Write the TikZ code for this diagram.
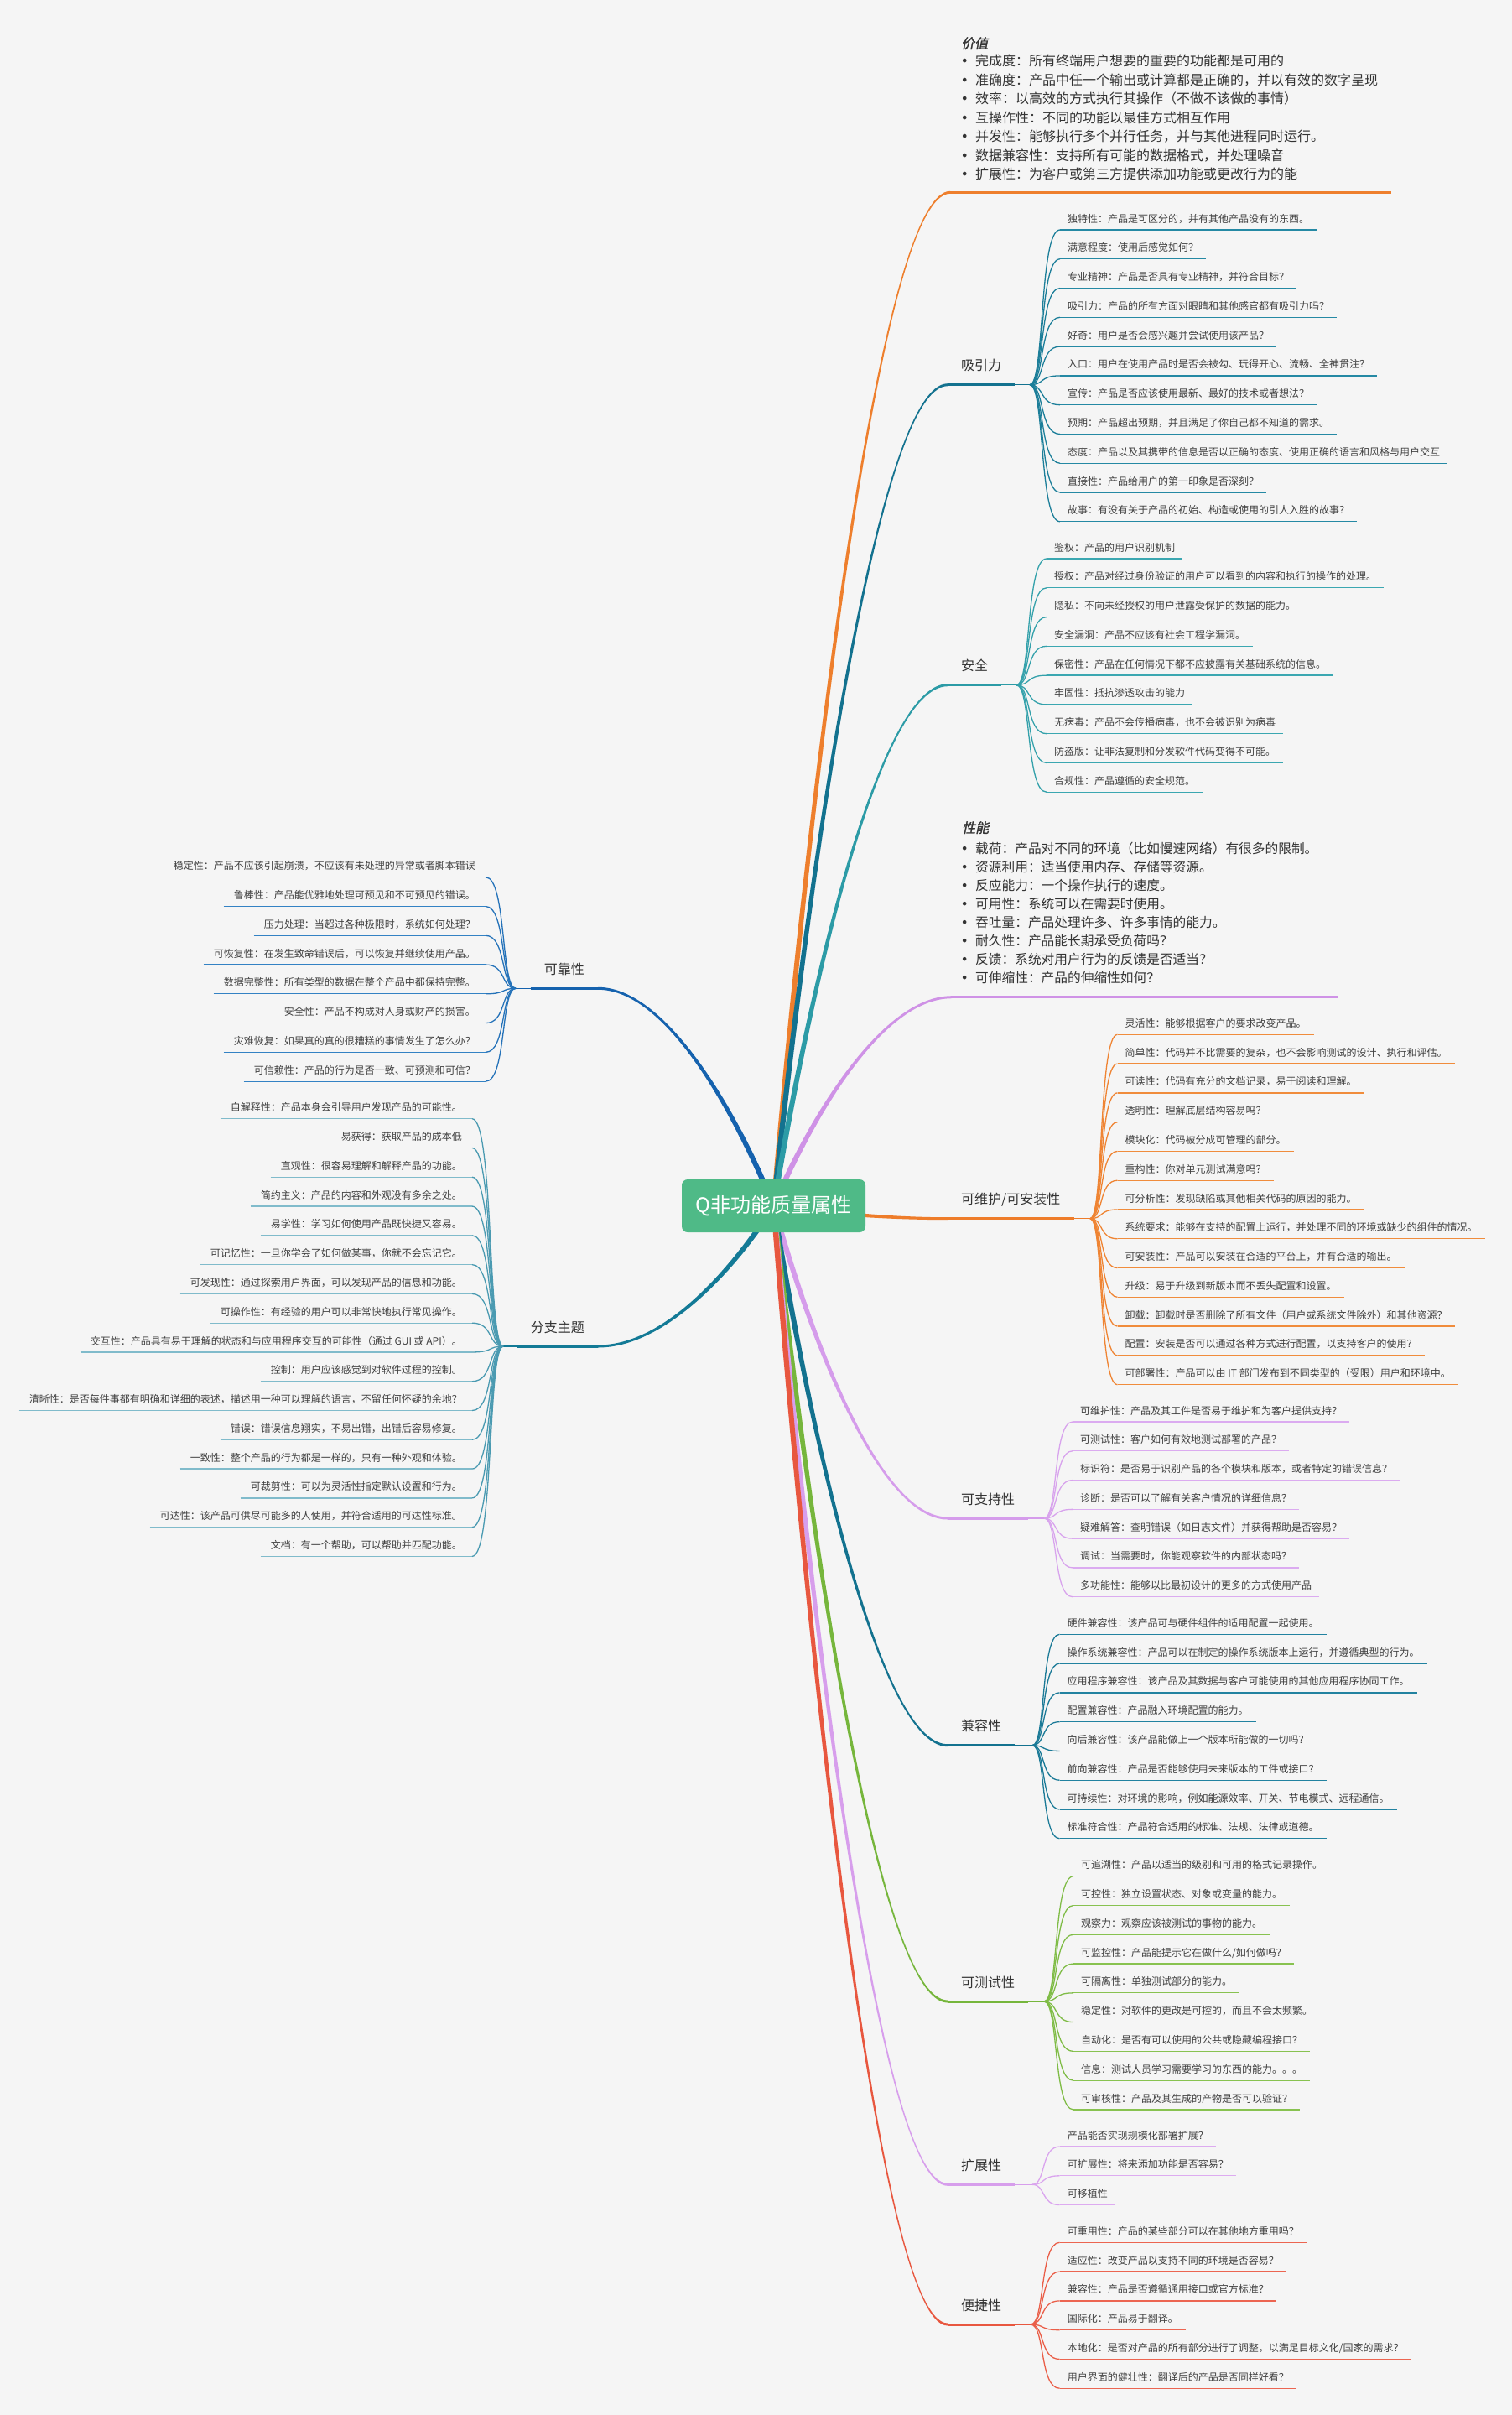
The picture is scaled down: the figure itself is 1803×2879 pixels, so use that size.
\documentclass[tikz,border=0pt]{standalone}
\usepackage{fontspec}
\setmainfont{Noto Sans CJK SC}
\newfontfamily\dejavu{DejaVu Sans}
\newfontfamily\slantcjk[FakeSlant=0.2,FakeBold=1.6]{Noto Sans CJK SC}
\usetikzlibrary{calc}
\pgfdeclarelayer{background}
\pgfdeclarelayer{edges}
\pgfsetlayers{background,edges,main}

\definecolor{bgc}{HTML}{F5F5F5}
\definecolor{txt}{HTML}{404040}
\definecolor{lbl}{HTML}{333333}
\definecolor{ctrc}{HTML}{4FBA87}
\definecolor{cval}{HTML}{EE7F2D}
\definecolor{catt}{HTML}{13728F}
\definecolor{catl}{HTML}{2589A4}
\definecolor{csec}{HTML}{2C9BA6}
\definecolor{csecl}{HTML}{3BA7B1}
\definecolor{cperf}{HTML}{CF92E6}
\definecolor{cmnt}{HTML}{EE7C2A}
\definecolor{cmntl}{HTML}{F08C3C}
\definecolor{csup}{HTML}{D59CEB}
\definecolor{csupl}{HTML}{DBABF0}
\definecolor{ccmp}{HTML}{13728F}
\definecolor{ccmpl}{HTML}{2282A0}
\definecolor{ctst}{HTML}{76B63C}
\definecolor{ctstl}{HTML}{88C250}
\definecolor{cext}{HTML}{D79EEC}
\definecolor{cextl}{HTML}{DDABF0}
\definecolor{cprt}{HTML}{E8573F}
\definecolor{cprtl}{HTML}{EC6551}
\definecolor{crel}{HTML}{1562AE}
\definecolor{crell}{HTML}{3382C4}
\definecolor{cusa}{HTML}{137A96}
\definecolor{cusal}{HTML}{80BBCB}

\tikzset{
  leafcurve/.style={to path={let \p1=(\tikztostart), \p2=(\tikztotarget) in
     .. controls ({\x1+0.5*(\x2-\x1)},\y1) and ({\x1+0.3*(\x2-\x1)},\y2) .. (\tikztotarget)}},
  taper/.style={to path={let \p1=(\tikztostart), \p2=(\tikztotarget),
     \p3=({0.2*(\x2-\x1)},{0.4*(\y2-\y1)}), \n1={veclen(\x3,\y3)},
     \p4=({-3.2*\y3/\n1},{3.2*\x3/\n1}),
     \n2={1.5*sign(\x2-\x1)} in
     ({\x1+\x4},{\y1+\y4}) .. controls ({\x1+\x3+\x4},{\y1+\y3+\y4}) and ({\x1+0.6*(\x2-\x1)},{\y2+\n2}) .. ({\x2},{\y2+\n2})
     -- ({\x2},{\y2-\n2}) .. controls ({\x1+0.6*(\x2-\x1)},{\y2-\n2}) and ({\x1+\x3-\x4},{\y1+\y3-\y4}) .. ({\x1-\x4},{\y1-\y4}) -- cycle}},
  leafR/.style={anchor=south west, inner xsep=9pt, inner ysep=7.3pt, text=txt,
     font=\fontsize{12}{12}\selectfont, text height=10.56pt, text depth=1.44pt,
     append after command={(\tikzlastnode.south west) edge[draw=#1, line width=1.3pt] (\tikzlastnode.south east)}},
  leafL/.style={leafR=#1, anchor=south east, inner xsep=12pt},
  branchR/.style={anchor=south west, inner xsep=16pt, inner ysep=14.7pt, text=lbl,
     font=\fontsize{16}{16}\selectfont, text height=14.08pt, text depth=1.92pt,
     append after command={(\tikzlastnode.south west) edge[draw=#1, line width=3pt] (\tikzlastnode.south east)}},
  branchL/.style={branchR=#1, anchor=south east},
  maincurve/.style={fill=#1},
  fancurve/.style={draw=#1, line width=1.3pt},
  fanline/.style={draw=#1, line width=1.5pt},
  blockline/.style={draw=#1, line width=2.5pt},
  vtitle/.style={anchor=west, inner sep=0pt, text=lbl, font=\slantcjk\fontsize{16}{16}\selectfont,
     text height=14.08pt, text depth=1.92pt},
  vrow/.style={anchor=west, inner sep=0pt, text=lbl, font=\fontsize{16}{16}\selectfont,
     text height=14.08pt, text depth=1.92pt,
     execute at begin node={\makebox[17.7pt][l]{\dejavu •}}},
  prow/.style={vrow, font=\fontsize{15.7}{15.7}\selectfont},
  ctrnode/.style={fill=ctrc, rounded corners=7pt, minimum width=219pt, minimum height=63pt,
     inner sep=0pt, text=white, font=\fontsize{24}{24}\selectfont}
}

% #1 id, #2 label, #3 main colour, #4 leaf colour, #5 line y, #6 fan x, #7 leaf x, #8 first leaf y, #9 leaves
\newcommand\rbranch[9]{%
  \node[branchR=#3] (#1) at (1130,#5) {#2};
  \coordinate (#1-fan) at (#6,#5);
  \draw[fanline=#3] (#1.south east) -- (#1-fan);
  \foreach \t [count=\i] in {#9}{%
    \node[leafR=#4] (#1-\i) at (#7,{#8+(\i-1)*34.78}) {\t};
    \draw[fancurve=#3!50!#4] (#1-fan) to[leafcurve] (#1-\i.south west);
  }%
  \begin{pgfonlayer}{edges}
    \path[maincurve=#3] (ctr.center) to[taper] (#1.south west);
  \end{pgfonlayer}%
}
\newcommand\lbranch[9]{%
  \node[branchL=#3] (#1) at (713,#5) {#2};
  \coordinate (#1-fan) at (#6,#5);
  \draw[fanline=#3] (#1.south west) -- (#1-fan);
  \foreach \t [count=\i] in {#9}{%
    \node[leafL=#4] (#1-\i) at (#7,{#8+(\i-1)*34.78}) {\t};
    \draw[fancurve=#3!50!#4] (#1-fan) to[leafcurve] (#1-\i.south east);
  }%
  \begin{pgfonlayer}{edges}
    \path[maincurve=#3] (ctr.center) to[taper] (#1.south east);
  \end{pgfonlayer}%
}

\begin{document}
\begin{tikzpicture}[x=1pt,y=-1pt]
\begin{pgfonlayer}{background}
  \fill[bgc] (0,0) rectangle (1803,2879);
\end{pgfonlayer}
\useasboundingbox (0,0) rectangle (1803,2879);

\node[ctrnode] (ctr) at (922.5,1437.5) {Q非功能质量属性};

% ---------- 价值 ----------
\node[vtitle] (val-t) at (1146,51.7) {价值};
\foreach \t [count=\i] in {%
  {完成度：所有终端用户想要的重要的功能都是可用的},
  {准确度：产品中任一个输出或计算都是正确的，并以有效的数字呈现},
  {效率：以高效的方式执行其操作（不做不该做的事情）},
  {互操作性：不同的功能以最佳方式相互作用},
  {并发性：能够执行多个并行任务，并与其他进程同时运行。},
  {数据兼容性：支持所有可能的数据格式，并处理噪音},
  {扩展性：为客户或第三方提供添加功能或更改行为的能}}{%
  \node[vrow] (val-\i) at (1145.3,{72.7+(\i-1)*22.5}) {\t};
}
\coordinate (val-s) at (1133,229.3);
\coordinate (val-e) at (1659,229.3);
\draw[blockline=cval] (val-s) -- (val-e);
\begin{pgfonlayer}{edges}
  \path[maincurve=cval] (ctr.center) to[taper] (val-s);
\end{pgfonlayer}

% ---------- 吸引力 ----------
\rbranch{att}{吸引力}{catt}{catl}{458.7}{1228}{1264}{274}{%
  {独特性：产品是可区分的，并有其他产品没有的东西。},
  {满意程度：使用后感觉如何？},
  {专业精神：产品是否具有专业精神，并符合目标？},
  {吸引力：产品的所有方面对眼睛和其他感官都有吸引力吗？},
  {好奇：用户是否会感兴趣并尝试使用该产品？},
  {入口：用户在使用产品时是否会被勾、玩得开心、流畅、全神贯注？},
  {宣传：产品是否应该使用最新、最好的技术或者想法？},
  {预期：产品超出预期，并且满足了你自己都不知道的需求。},
  {态度：产品以及其携带的信息是否以正确的态度、使用正确的语言和风格与用户交互},
  {直接性：产品给用户的第一印象是否深刻？},
  {故事：有没有关于产品的初始、构造或使用的引人入胜的故事？}}

% ---------- 安全 ----------
\rbranch{sec}{安全}{csec}{csecl}{816.7}{1212}{1248}{666}{%
  {鉴权：产品的用户识别机制},
  {授权：产品对经过身份验证的用户可以看到的内容和执行的操作的处理。},
  {隐私：不向未经授权的用户泄露受保护的数据的能力。},
  {安全漏洞：产品不应该有社会工程学漏洞。},
  {保密性：产品在任何情况下都不应披露有关基础系统的信息。},
  {牢固性：抵抗渗透攻击的能力},
  {无病毒：产品不会传播病毒，也不会被识别为病毒},
  {防盗版：让非法复制和分发软件代码变得不可能。},
  {合规性：产品遵循的安全规范。}}

% ---------- 性能 ----------
\node[vtitle] (perf-t) at (1147,986.7) {性能};
\foreach \t [count=\i] in {%
  {载荷：产品对不同的环境（比如慢速网络）有很多的限制。},
  {资源利用：适当使用内存、存储等资源。},
  {反应能力：一个操作执行的速度。},
  {可用性：系统可以在需要时使用。},
  {吞吐量：产品处理许多、许多事情的能力。},
  {耐久性：产品能长期承受负荷吗？},
  {反馈：系统对用户行为的反馈是否适当？},
  {可伸缩性：产品的伸缩性如何？}}{%
  \node[prow] (perf-\i) at (1145.3,{1011.7+(\i-1)*21.9}) {\t};
}
\coordinate (perf-s) at (1135,1188.7);
\coordinate (perf-e) at (1596,1188.7);
\draw[blockline=cperf] (perf-s) -- (perf-e);
\begin{pgfonlayer}{edges}
  \path[maincurve=cperf] (ctr.center) to[taper] (perf-s);
\end{pgfonlayer}

% ---------- 可维护/可安装性 ----------
\rbranch{mnt}{可维护/可安装性}{cmnt}{cmntl}{1452.7}{1300}{1332.5}{1233.3}{%
  {灵活性：能够根据客户的要求改变产品。},
  {简单性：代码并不比需要的复杂，也不会影响测试的设计、执行和评估。},
  {可读性：代码有充分的文档记录，易于阅读和理解。},
  {透明性：理解底层结构容易吗？},
  {模块化：代码被分成可管理的部分。},
  {重构性：你对单元测试满意吗？},
  {可分析性：发现缺陷或其他相关代码的原因的能力。},
  {系统要求：能够在支持的配置上运行，并处理不同的环境或缺少的组件的情况。},
  {可安装性：产品可以安装在合适的平台上，并有合适的输出。},
  {升级：易于升级到新版本而不丢失配置和设置。},
  {卸载：卸载时是否删除了所有文件（用户或系统文件除外）和其他资源？},
  {配置：安装是否可以通过各种方式进行配置，以支持客户的使用？},
  {可部署性：产品可以由 IT 部门发布到不同类型的（受限）用户和环境中。}}

% ---------- 可支持性 ----------
\rbranch{sup}{可支持性}{csup}{csupl}{1810}{1245}{1279}{1695}{%
  {可维护性：产品及其工件是否易于维护和为客户提供支持？},
  {可测试性：客户如何有效地测试部署的产品？},
  {标识符：是否易于识别产品的各个模块和版本，或者特定的错误信息？},
  {诊断：是否可以了解有关客户情况的详细信息？},
  {疑难解答：查明错误（如日志文件）并获得帮助是否容易？},
  {调试：当需要时，你能观察软件的内部状态吗？},
  {多功能性：能够以比最初设计的更多的方式使用产品}}

% ---------- 兼容性 ----------
\rbranch{cmp}{兼容性}{ccmp}{ccmpl}{2080.7}{1231}{1263.5}{1948.3}{%
  {硬件兼容性：该产品可与硬件组件的适用配置一起使用。},
  {操作系统兼容性：产品可以在制定的操作系统版本上运行，并遵循典型的行为。},
  {应用程序兼容性：该产品及其数据与客户可能使用的其他应用程序协同工作。},
  {配置兼容性：产品融入环境配置的能力。},
  {向后兼容性：该产品能做上一个版本所能做的一切吗？},
  {前向兼容性：产品是否能够使用未来版本的工件或接口？},
  {可持续性：对环境的影响，例如能源效率、开关、节电模式、远程通信。},
  {标准符合性：产品符合适用的标准、法规、法律或道德。}}

% ---------- 可测试性 ----------
\rbranch{tst}{可测试性}{ctst}{ctstl}{2386}{1245}{1280}{2236.7}{%
  {可追溯性：产品以适当的级别和可用的格式记录操作。},
  {可控性：独立设置状态、对象或变量的能力。},
  {观察力：观察应该被测试的事物的能力。},
  {可监控性：产品能提示它在做什么/如何做吗？},
  {可隔离性：单独测试部分的能力。},
  {稳定性：对软件的更改是可控的，而且不会太频繁。},
  {自动化：是否有可以使用的公共或隐藏编程接口？},
  {信息：测试人员学习需要学习的东西的能力。。。},
  {可审核性：产品及其生成的产物是否可以验证？}}

% ---------- 扩展性 ----------
\rbranch{ext}{扩展性}{cext}{cextl}{2604.3}{1231}{1263.6}{2559}{%
  {产品能否实现规模化部署扩展？},
  {可扩展性：将来添加功能是否容易？},
  {可移植性}}

% ---------- 便捷性 ----------
\rbranch{prt}{便捷性}{cprt}{cprtl}{2771}{1229}{1263.6}{2673.3}{%
  {可重用性：产品的某些部分可以在其他地方重用吗？},
  {适应性：改变产品以支持不同的环境是否容易？},
  {兼容性：产品是否遵循通用接口或官方标准？},
  {国际化：产品易于翻译。},
  {本地化：是否对产品的所有部分进行了调整，以满足目标文化/国家的需求？},
  {用户界面的健壮性：翻译后的产品是否同样好看？}}

% ---------- 可靠性 ----------
\lbranch{rel}{可靠性}{crel}{crell}{1178.3}{615}{579}{1045.7}{%
  {稳定性：产品不应该引起崩溃，不应该有未处理的异常或者脚本错误},
  {鲁棒性：产品能优雅地处理可预见和不可预见的错误。},
  {压力处理：当超过各种极限时，系统如何处理？},
  {可恢复性：在发生致命错误后，可以恢复并继续使用产品。},
  {数据完整性：所有类型的数据在整个产品中都保持完整。},
  {安全性：产品不构成对人身或财产的损害。},
  {灾难恢复：如果真的真的很糟糕的事情发生了怎么办？},
  {可信赖性：产品的行为是否一致、可预测和可信？}}

% ---------- 分支主题 ----------
\lbranch{usa}{分支主题}{cusa}{cusal}{1605}{600}{563}{1333.7}{%
  {自解释性：产品本身会引导用户发现产品的可能性。},
  {易获得：获取产品的成本低},
  {直观性：很容易理解和解释产品的功能。},
  {简约主义：产品的内容和外观没有多余之处。},
  {易学性：学习如何使用产品既快捷又容易。},
  {可记忆性：一旦你学会了如何做某事，你就不会忘记它。},
  {可发现性：通过探索用户界面，可以发现产品的信息和功能。},
  {可操作性：有经验的用户可以非常快地执行常见操作。},
  {交互性：产品具有易于理解的状态和与应用程序交互的可能性（通过 GUI 或 API）。},
  {控制：用户应该感觉到对软件过程的控制。},
  {清晰性：是否每件事都有明确和详细的表述，描述用一种可以理解的语言，不留任何怀疑的余地？},
  {错误：错误信息翔实，不易出错，出错后容易修复。},
  {一致性：整个产品的行为都是一样的，只有一种外观和体验。},
  {可裁剪性：可以为灵活性指定默认设置和行为。},
  {可达性：该产品可供尽可能多的人使用，并符合适用的可达性标准。},
  {文档：有一个帮助，可以帮助并匹配功能。}}

\end{tikzpicture}
\end{document}
